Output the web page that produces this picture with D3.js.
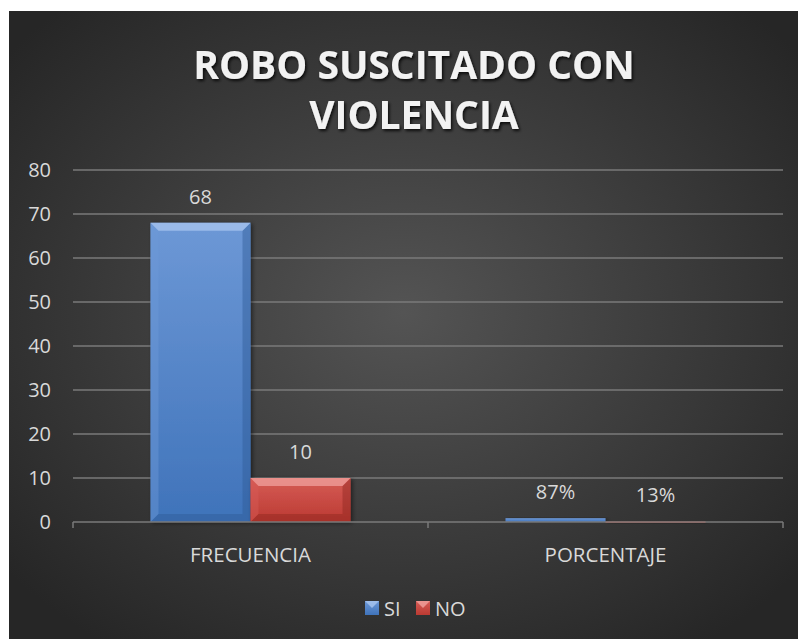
<!DOCTYPE html>
<meta charset="utf-8">
<style>
  body { margin: 0; background: #fff; }
  svg { display: block; }
  .tick-label { fill: #d9d9d9; font: 20px "Open Sans", sans-serif; }
  .cat-label { fill: #d9d9d9; font: 20.5px "Open Sans", sans-serif; }
  .grid line { stroke: #7a7a7a; stroke-width: 1.5px; }
</style>
<body>
<script src="https://d3js.org/d3.v7.min.js"></script>
<script>

// chart data
var categories = ["FRECUENCIA", "PORCENTAJE"];
var series = ["SI", "NO"];
var siValues = [68, 0.87];
var noValues = [10, 0.13];
var valueLabels = [["68", "10"], ["87%", "13%"]];
var yTicks = [0, 10, 20, 30, 40, 50, 60, 70, 80];
var titleLines = ["ROBO SUSCITADO CON", "VIOLENCIA"];

var W = 798, H = 639;
var colors = {
  SI: { top: "#6d98d6", bottom: "#3f73ba", light: "#a9c6ef", dark: "#2f5a96" },
  NO: { top: "#d65c56", bottom: "#bb3a32", light: "#f0a29d", dark: "#8f2620" }
};

var svg = d3.select("body").append("svg")
    .attr("width", W)
    .attr("height", H);

var defs = svg.append("defs");

// background radial gradient
var bg = defs.append("radialGradient")
    .attr("id", "bgGrad")
    .attr("cx", "50%").attr("cy", "48%").attr("r", "65%");
bg.append("stop").attr("offset", "0%").attr("stop-color", "#545454");
bg.append("stop").attr("offset", "100%").attr("stop-color", "#262626");

series.forEach(function(s) {
  var g = defs.append("linearGradient")
      .attr("id", "grad" + s)
      .attr("x1", 0).attr("y1", 0).attr("x2", 0).attr("y2", 1);
  g.append("stop").attr("offset", "0%").attr("stop-color", colors[s].top);
  g.append("stop").attr("offset", "100%").attr("stop-color", colors[s].bottom);
});

var shadow = defs.append("filter").attr("id", "shadow")
    .attr("x", "-20%").attr("y", "-20%").attr("width", "150%").attr("height", "140%");
shadow.append("feDropShadow")
    .attr("dx", 2).attr("dy", 1).attr("stdDeviation", 2)
    .attr("flood-color", "#000").attr("flood-opacity", 0.5);

var textShadow = defs.append("filter").attr("id", "tshadow")
    .attr("x", "-10%").attr("y", "-30%").attr("width", "120%").attr("height", "160%");
textShadow.append("feDropShadow")
    .attr("dx", 1.5).attr("dy", 2).attr("stdDeviation", 1.5)
    .attr("flood-color", "#000").attr("flood-opacity", 0.8);

svg.append("rect")
    .attr("x", 9).attr("y", 11)
    .attr("width", W - 9).attr("height", H - 11)
    .attr("fill", "url(#bgGrad)");

// title
var title = svg.append("text")
    .attr("text-anchor", "middle")
    .attr("fill", "#f2f2f2")
    .attr("filter", "url(#tshadow)")
    .style("font", "bold 39px 'Open Sans', sans-serif");
titleLines.forEach(function(t, i) {
  title.append("tspan")
      .attr("x", 414)
      .attr("y", 79 + i * 50)
      .text(t);
});

// scales
var x0 = d3.scaleBand().domain(categories).range([73, 783]);
var x1 = d3.scaleBand().domain(series).range([0, x0.bandwidth()]).paddingOuter(0.775);
var y = d3.scaleLinear().domain([0, 80]).range([522, 170]);

// gridlines
svg.append("g")
    .attr("class", "grid")
    .selectAll("line")
    .data(yTicks.filter(function(d) { return d > 0; }))
  .enter().append("line")
    .attr("x1", 73).attr("x2", 783)
    .attr("y1", function(d) { return y(d); })
    .attr("y2", function(d) { return y(d); });

// y tick labels
svg.append("g")
    .selectAll("text")
    .data(yTicks)
  .enter().append("text")
    .attr("class", "tick-label")
    .attr("x", 51)
    .attr("y", function(d) { return y(d); })
    .attr("dy", "0.35em")
    .attr("text-anchor", "end")
    .text(function(d) { return d; });

// bars
var rows = categories.map(function(c, i) {
  return [
    { cat: c, s: "SI", v: siValues[i], label: valueLabels[i][0] },
    { cat: c, s: "NO", v: noValues[i], label: valueLabels[i][1] }
  ];
});

var groups = svg.selectAll(".cat")
    .data(rows)
  .enter().append("g")
    .attr("class", "cat")
    .attr("transform", function(d, i) { return "translate(" + x0(categories[i]) + ",0)"; });

var bars = groups.selectAll(".bar")
    .data(function(d) { return d; })
  .enter().append("g")
    .attr("class", "bar");

bars.append("rect")
    .attr("x", function(d) { return x1(d.s); })
    .attr("y", function(d) { return y(d.v); })
    .attr("width", x1.bandwidth())
    .attr("height", function(d) { return Math.max(1.5, y(0) - y(d.v)); })
    .attr("fill", function(d) { return "url(#grad" + d.s + ")"; })
    .attr("filter", "url(#shadow)");

// bevel edges
function bevel(d, side) {
  var xa = x1(d.s), xb = xa + x1.bandwidth();
  var ya = y(d.v), yb = y(0);
  var b = Math.min(8, (yb - ya) / 2, x1.bandwidth() / 2);
  if (side === "top") return [[xa, ya], [xb, ya], [xb - b, ya + b], [xa + b, ya + b]];
  if (side === "left") return [[xa, ya], [xa + b, ya + b], [xa + b, yb - b], [xa, yb]];
  if (side === "right") return [[xb, ya], [xb - b, ya + b], [xb - b, yb - b], [xb, yb]];
  return [[xa, yb], [xa + b, yb - b], [xb - b, yb - b], [xb, yb]];
}
var bevelStyle = {
  top: function(d) { return colors[d.s].light; },
  left: function(d) { return colors[d.s].top; },
  right: function(d) { return colors[d.s].dark; },
  bottom: function(d) { return colors[d.s].dark; }
};
["left", "right", "bottom", "top"].forEach(function(side) {
  bars.filter(function(d) { return y(0) - y(d.v) > 4; })
    .append("polygon")
      .attr("points", function(d) { return bevel(d, side).join(" "); })
      .attr("fill", bevelStyle[side])
      .attr("opacity", side === "top" ? 0.75 : 0.45);
});

// value labels
bars.append("text")
    .attr("class", "tick-label")
    .attr("x", function(d) { return x1(d.s) + x1.bandwidth() / 2; })
    .attr("y", function(d) { return y(d.v) - 19; })
    .attr("text-anchor", "middle")
    .text(function(d) { return d.label; });

// x axis
var xAxis = svg.append("g");
xAxis.append("line")
    .attr("x1", 73).attr("x2", 783)
    .attr("y1", y(0)).attr("y2", y(0))
    .attr("stroke", "#7a7a7a").attr("stroke-width", 1.5);
xAxis.selectAll(".xtick")
    .data(categories.concat([null]))
  .enter().append("line")
    .attr("x1", function(d) { return d ? x0(d) : x0.range()[1]; })
    .attr("x2", function(d) { return d ? x0(d) : x0.range()[1]; })
    .attr("y1", y(0)).attr("y2", y(0) + 6)
    .attr("stroke", "#7a7a7a").attr("stroke-width", 1.5);
xAxis.selectAll(".xlabel")
    .data(categories)
  .enter().append("text")
    .attr("class", "cat-label")
    .attr("x", function(d) { return x0(d) + x0.bandwidth() / 2; })
    .attr("y", 562)
    .attr("text-anchor", "middle")
    .text(function(d) { return d; });

// legend
var legendX = [365, 416];
var legend = svg.selectAll(".legend")
    .data(series)
  .enter().append("g")
    .attr("class", "legend")
    .attr("transform", function(d, i) { return "translate(" + legendX[i] + ",601)"; });
legend.append("rect")
    .attr("width", 14).attr("height", 14)
    .attr("fill", function(d) { return "url(#grad" + d + ")"; });
legend.append("polygon")
    .attr("points", "0,0 14,0 7,7")
    .attr("fill", function(d) { return colors[d].light; })
    .attr("opacity", 0.8);
legend.append("text")
    .attr("class", "tick-label")
    .attr("x", 19)
    .attr("y", 14.5)
    .text(function(d) { return d; });

</script>
</body>
